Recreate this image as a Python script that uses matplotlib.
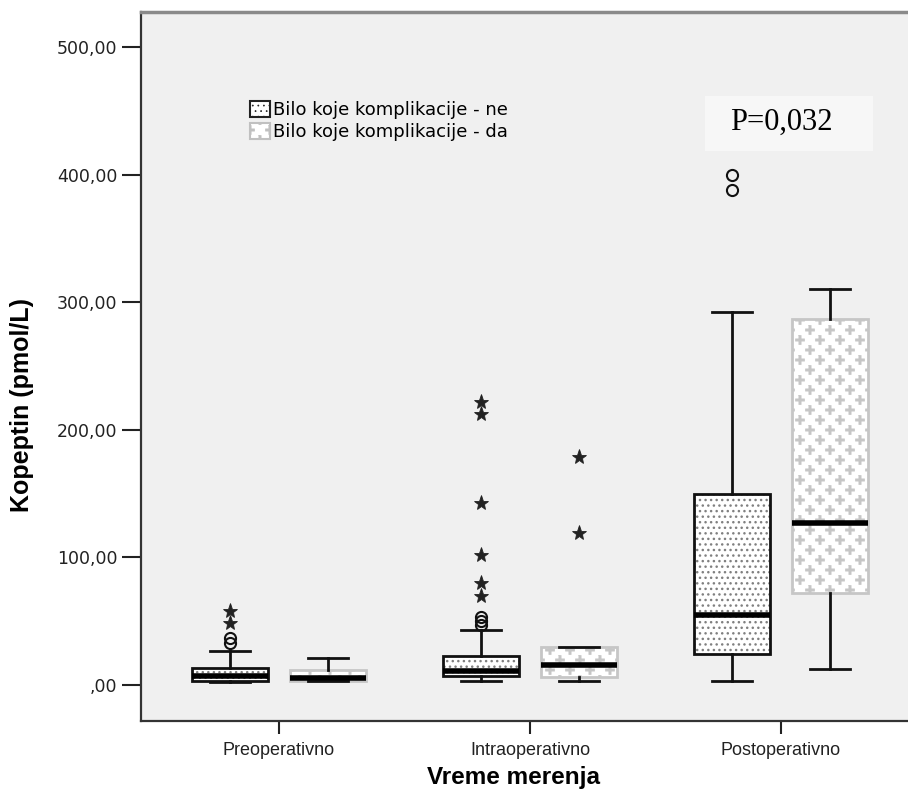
import matplotlib
matplotlib.use('Agg')
import matplotlib.pyplot as plt
import matplotlib.hatch as mhatch
from matplotlib.path import Path
import numpy as np
from matplotlib.patches import Patch, PathPatch, Rectangle

plt.rcParams['font.family'] = ['Liberation Sans', 'DejaVu Sans']


# small "+" texture like the SPSS fill, swapped in for the '*' hatch
class PlusHatch(mhatch.HatchPatternBase):
    def __init__(self, hatch, density):
        self.ncols = hatch.count('*') * 5
        t, r = 0.011, 0.045
        self.shape = np.array([(-t, r), (t, r), (t, t), (r, t), (r, -t), (t, -t),
                               (t, -r), (-t, -r), (-t, -t), (-r, -t), (-r, t),
                               (-t, t), (-t, r)])
        self.centers = []
        if self.ncols > 0:
            for row in range(2 * self.ncols + 1):
                if row % 2 == 0:
                    xs = np.linspace(0, 1, self.ncols + 1)
                else:
                    xs = (np.arange(self.ncols) + 0.5) / self.ncols
                self.centers += [(xc, row / (2.0 * self.ncols)) for xc in xs]
        self.num_vertices = len(self.centers) * len(self.shape)

    def set_vertices_and_codes(self, vertices, codes):
        n = len(self.shape)
        for i, (xc, yc) in enumerate(self.centers):
            vertices[i * n:(i + 1) * n] = self.shape + (xc, yc)
            codes[i * n:(i + 1) * n] = Path.LINETO
            codes[i * n] = Path.MOVETO


mhatch._hatch_types[mhatch._hatch_types.index(mhatch.Stars)] = PlusHatch

groups = ['Preoperativno', 'Intraoperativno', 'Postoperativno']
series_labels = ['Bilo koje komplikacije - ne', 'Bilo koje komplikacije - da']

# komplikacije - ne
ne_whislo = [2.0, 3.0, 3.5]
ne_q1 = [3.0, 7.0, 24.0]
ne_med = [7.0, 11.0, 55.0]
ne_q3 = [13.0, 23.0, 150.0]
ne_whishi = [27.0, 43.0, 292.0]
ne_circles = [[33.0, 37.0], [47.0, 50.0, 53.0], [388.0, 400.0]]
ne_stars = [[49.0, 58.0], [70.0, 80.0, 102.0, 143.0, 212.0, 222.0], []]

# komplikacije - da
da_whislo = [3.0, 3.0, 12.5]
da_q1 = [3.0, 6.5, 72.0]
da_med = [5.5, 16.0, 127.0]
da_q3 = [12.0, 30.0, 287.0]
da_whishi = [21.0, 30.0, 310.0]
da_circles = [[], [], []]
da_stars = [[], [119.0, 179.0], []]

yticks = [0, 100, 200, 300, 400, 500]
ytick_labels = [',00', '100,00', '200,00', '300,00', '400,00', '500,00']
p_text = 'P=0,032'


def make_stats(lo, q1, med, q3, hi):
    return [dict(whislo=a, q1=b, med=c, q3=d, whishi=e, fliers=[])
            for a, b, c, d, e in zip(lo, q1, med, q3, hi)]


fig = plt.figure(figsize=(9.08, 7.96), dpi=100)
ax = fig.add_axes([0.1553, 0.0942, 0.8568, 0.8907])
ax.set_facecolor('#f0f0f0')

x = np.arange(len(groups))
off = 0.195
bw = 0.303
capw = 0.16

common = dict(widths=bw, capwidths=capw, patch_artist=True, showfliers=False,
              whiskerprops=dict(color='#111111', lw=2.0),
              capprops=dict(color='#111111', lw=2.0),
              medianprops=dict(color='black', lw=4.0, solid_capstyle='butt', zorder=5))

# ne boxes: grey dotted fill, black outline drawn on top
plt.rcParams['hatch.linewidth'] = 1.0
bne = ax.bxp(make_stats(ne_whislo, ne_q1, ne_med, ne_q3, ne_whishi), positions=x - off,
             boxprops=dict(facecolor='white', edgecolor='#808080', hatch='...', lw=0),
             **common)
for b in bne['boxes']:
    ax.add_patch(PathPatch(b.get_path(), transform=b.get_transform(), fill=False,
                           edgecolor='#111111', lw=2.0, zorder=4))

plt.rcParams['hatch.linewidth'] = 0.5
bda = ax.bxp(make_stats(da_whislo, da_q1, da_med, da_q3, da_whishi), positions=x + off,
             boxprops=dict(facecolor='white', edgecolor='#c6c6c6', hatch='*', lw=2.0),
             **common)

for xi, c, s in zip(x - off, ne_circles, ne_stars):
    ax.plot([xi] * len(c), c, 'o', mfc='none', mec='#111111', mew=1.5, ms=8, zorder=6)
    ax.plot([xi] * len(s), s, '*', color='#222222', ms=11, mew=0.6, zorder=6)
for xi, c, s in zip(x + off, da_circles, da_stars):
    ax.plot([xi] * len(c), c, 'o', mfc='none', mec='#111111', mew=1.5, ms=8, zorder=6)
    ax.plot([xi] * len(s), s, '*', color='#222222', ms=11, mew=0.6, zorder=6)

ax.set_xlim(-0.55, 2.55)
ax.set_ylim(-28.2, 527.4)
ax.set_xticks(x)
ax.set_xticklabels(groups, fontsize=13, color='#222222')
ax.set_yticks(yticks)
ax.set_yticklabels(ytick_labels, fontsize=12.5, color='#222222', family='DejaVu Sans')
ax.tick_params(axis='y', length=14, width=1.5, pad=3, color='#222222')
ax.tick_params(axis='x', length=9, width=1.5, pad=6, color='#222222')

for side in ['left', 'bottom']:
    ax.spines[side].set_color('#333333')
    ax.spines[side].set_linewidth(1.6)
ax.spines['top'].set_color('#8a8a8a')
ax.spines['top'].set_linewidth(2.5)
ax.spines['right'].set_visible(False)

ax.set_ylabel('Kopeptin (pmol/L)', fontsize=18, fontweight='bold', va='center')
ax.yaxis.set_label_coords(-0.153, 0.446)
ax.set_xlabel('Vreme merenja', fontsize=17.5, fontweight='bold', va='center')
ax.xaxis.set_label_coords(0.479, -0.08)

plt.rcParams['hatch.linewidth'] = 1.0
h_ne = Patch(facecolor='white', edgecolor='#222222', hatch='...', lw=1.5)
plt.rcParams['hatch.linewidth'] = 0.5
h_da = Patch(facecolor='white', edgecolor='#c0c0c0', hatch='*', lw=1.5)
ax.legend([h_ne, h_da], series_labels, loc='upper left', bbox_to_anchor=(0.131, 0.885),
          frameon=False, prop=dict(family='DejaVu Sans', size=13),
          handlelength=1.1, handleheight=1.0,
          handletextpad=0.15, labelspacing=0.2, borderaxespad=0)

ax.add_patch(Rectangle((0.725, 0.804), 0.216, 0.0776, transform=ax.transAxes,
                       facecolor='#f7f7f7', edgecolor='none', zorder=1))
ax.text(0.823, 0.845, p_text, transform=ax.transAxes, ha='center', va='center',
        fontsize=22, family='Liberation Serif', zorder=2)

fig.savefig('out.png', dpi=100)
